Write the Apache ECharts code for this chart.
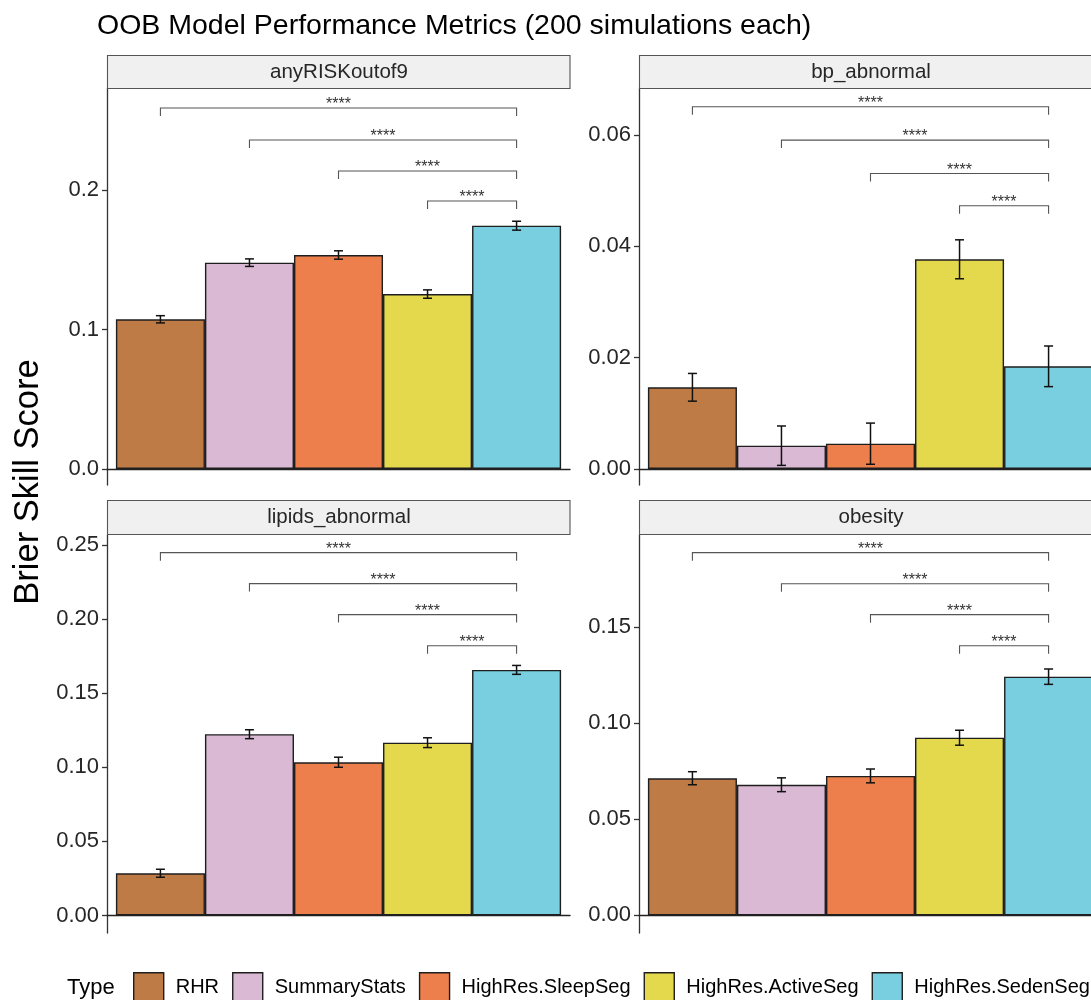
<!DOCTYPE html>
<html>
<head>
<meta charset="utf-8">
<script src="https://cdn.jsdelivr.net/npm/echarts@6/dist/echarts.min.js"></script>
<style>
html,body{margin:0;padding:0;background:#fff;overflow:hidden;}
#chart{width:1200px;height:1000px;}
</style>
</head>
<body>
<div id="chart"></div>
<script>
// ---- data ----
const types = ['RHR', 'SummaryStats', 'HighRes.SleepSeg', 'HighRes.ActiveSeg', 'HighRes.SedenSeg'];
const metrics = ['anyRISKoutof9', 'bp_abnormal', 'lipids_abnormal', 'obesity'];

const meanAny = [0.1073, 0.1479, 0.1534, 0.1254, 0.1744];
const errAny  = [0.0026, 0.0027, 0.0030, 0.0030, 0.0032];
const meanBp  = [0.01468, 0.00419, 0.00455, 0.03768, 0.01845];
const errBp   = [0.00249, 0.00354, 0.00370, 0.00350, 0.00365];
const meanLip = [0.0285, 0.1223, 0.1034, 0.1166, 0.1657];
const errLip  = [0.0027, 0.0030, 0.0034, 0.0033, 0.0030];
const meanObe = [0.0714, 0.0680, 0.0726, 0.0925, 0.1243];
const errObe  = [0.0034, 0.0036, 0.0036, 0.0039, 0.0040];

// significance brackets: compare each type with HighRes.SedenSeg (positions 1..5)
const bracketPairs = [[1, 5], [2, 5], [3, 5], [4, 5]];
const bracketLabel = '****';
const brAny = [0.2588, 0.2358, 0.2136, 0.1921];
const brBp  = [0.0651, 0.0591, 0.0531, 0.0473];
const brLip = [0.2448, 0.2239, 0.2030, 0.1820];
const brObe = [0.1889, 0.1727, 0.1566, 0.1404];

// y-axis tick labels
const ticksAny = [0.0, 0.1, 0.2];
const ticksBp  = [0.00, 0.02, 0.04, 0.06];
const ticksLip = [0.00, 0.05, 0.10, 0.15, 0.20, 0.25];
const ticksObe = [0.00, 0.05, 0.10, 0.15];
const tickDecimals = [1, 2, 2, 2];

// ---- layout / style ----
const colors = ['#BF7B45', '#DAB9D4', '#EC7F4C', '#E4D94C', '#79CFE0'];
const FONT = '"Liberation Sans", Arial, Helvetica, sans-serif';
const panelW = 463;
const grids = [
  {left: 107, top: 88, width: panelW, height: 397},
  {left: 639, top: 88, width: panelW, height: 397},
  {left: 107, top: 535, width: panelW, height: 398},
  {left: 639, top: 535, width: panelW, height: 398}
];
const yRanges = [
  [-0.01147, 0.2731],
  [-0.002875, 0.06846],
  [-0.0118, 0.2567],
  [-0.00922, 0.1981]
];
const strips = [
  {x: 107.5, y: 55.5, h: 33},
  {x: 639.5, y: 55.5, h: 33},
  {x: 107.5, y: 500.5, h: 34},
  {x: 639.5, y: 500.5, h: 34}
];

const means = [meanAny, meanBp, meanLip, meanObe];
const errs = [errAny, errBp, errLip, errObe];
const brs = [brAny, brBp, brLip, brObe];
const ticks = [ticksAny, ticksBp, ticksLip, ticksObe];

const xMin = 0.4, xMax = 5.6;
const barW = panelW / (xMax - xMin);

const xAxes = [], yAxes = [], series = [], graphics = [];

for (let p = 0; p < 4; p++) {
  xAxes.push({
    gridIndex: p, type: 'value', min: xMin, max: xMax,
    axisLine: {show: true, onZero: true, lineStyle: {color: '#222', width: 1.4}},
    axisTick: {show: false}, axisLabel: {show: false}, splitLine: {show: false}
  });
  const dec = tickDecimals[p];
  yAxes.push({
    gridIndex: p, type: 'value', min: yRanges[p][0], max: yRanges[p][1],
    axisLine: {show: true, onZero: false, lineStyle: {color: '#333', width: 1.3}},
    axisTick: {show: true, length: 5, customValues: ticks[p], lineStyle: {color: '#333', width: 1.3}},
    axisLabel: {
      show: true, customValues: ticks[p], margin: 8,
      fontFamily: FONT, fontSize: 22, color: '#262626',
      formatter: v => Number(v).toFixed(dec)
    },
    splitLine: {show: false}
  });

  for (let i = 0; i < types.length; i++) {
    series.push({
      name: types[i], type: 'bar', xAxisIndex: p, yAxisIndex: p,
      barWidth: barW, barGap: '-100%',
      data: [[i + 1, means[p][i]]],
      itemStyle: {color: colors[i], borderColor: '#1e1e1e', borderWidth: 1.4},
      emphasis: {disabled: true}, z: 2
    });
  }

  // error bars
  series.push({
    type: 'custom', xAxisIndex: p, yAxisIndex: p, silent: true, z: 4,
    encode: {x: 0, y: [1, 2]},
    data: means[p].map((m, i) => [i + 1, m - errs[p][i], m + errs[p][i]]),
    renderItem: function (params, api) {
      const x = api.value(0);
      const lo = api.coord([x, api.value(1)]);
      const hi = api.coord([x, api.value(2)]);
      const cw = 4.5;
      const st = {stroke: '#111', lineWidth: 1.5, fill: null};
      return {
        type: 'group', children: [
          {type: 'line', shape: {x1: lo[0], y1: lo[1], x2: hi[0], y2: hi[1]}, style: st},
          {type: 'line', shape: {x1: lo[0] - cw, y1: lo[1], x2: lo[0] + cw, y2: lo[1]}, style: st},
          {type: 'line', shape: {x1: hi[0] - cw, y1: hi[1], x2: hi[0] + cw, y2: hi[1]}, style: st}
        ]
      };
    }
  });

  // significance brackets
  series.push({
    type: 'custom', xAxisIndex: p, yAxisIndex: p, silent: true, z: 4,
    encode: {x: [0, 1], y: 2},
    data: bracketPairs.map((pr, k) => [pr[0], pr[1], brs[p][k]]),
    renderItem: function (params, api) {
      const a = api.coord([api.value(0), api.value(2)]);
      const b = api.coord([api.value(1), api.value(2)]);
      const tip = 8;
      return {
        type: 'group', children: [
          {type: 'polyline', shape: {points: [[a[0], a[1] + tip], [a[0], a[1]], [b[0], b[1]], [b[0], b[1] + tip]]},
           style: {stroke: '#555', lineWidth: 1.1, fill: null}},
          {type: 'text', style: {text: bracketLabel, x: (a[0] + b[0]) / 2, y: a[1] - 3,
            align: 'center', verticalAlign: 'middle', fontFamily: FONT, fontSize: 16, fill: '#333'}}
        ]
      };
    }
  });

  // facet strips
  graphics.push({
    type: 'rect', shape: {x: strips[p].x, y: strips[p].y, width: panelW - 0.5, height: strips[p].h},
    style: {fill: '#F0F0F0', stroke: '#555', lineWidth: 1.1}, z: 10
  });
  graphics.push({
    type: 'text', x: strips[p].x + panelW / 2, y: strips[p].y + strips[p].h / 2,
    style: {text: metrics[p], align: 'center', verticalAlign: 'middle', fontFamily: FONT, fontSize: 20.5, fill: '#262626'},
    z: 11
  });
}

// y-axis title
graphics.push({
  type: 'text', x: 28, y: 482, rotation: Math.PI / 2,
  style: {text: 'Brier Skill Score', align: 'center', verticalAlign: 'middle', fontFamily: FONT, fontSize: 34.5, fill: '#000'}
});
// legend title
graphics.push({
  type: 'text', x: 67, y: 988,
  style: {text: 'Type', align: 'left', verticalAlign: 'middle', fontFamily: FONT, fontSize: 22, fill: '#000'}
});

const option = {
  animation: false,
  backgroundColor: '#fff',
  title: {
    text: 'OOB Model Performance Metrics (200 simulations each)',
    left: 97, top: 12, padding: 0,
    textStyle: {fontFamily: FONT, fontSize: 28.5, fontWeight: 'normal', color: '#000'}
  },
  grid: grids,
  xAxis: xAxes,
  yAxis: yAxes,
  legend: {
    data: types, left: 133, top: 972, width: 1060, orient: 'horizontal', padding: 0,
    icon: 'rect', itemWidth: 30, itemHeight: 30, itemGap: 13,
    itemStyle: {borderColor: '#1e1e1e', borderWidth: 1.4},
    textStyle: {fontFamily: FONT, fontSize: 20, color: '#000', padding: [0, 0, 0, 7]},
    selectedMode: false
  },
  graphic: graphics,
  series: series
};

const chart = echarts.init(document.getElementById('chart'), null, {renderer: 'canvas'});
chart.setOption(option);
</script>
</body>
</html>
